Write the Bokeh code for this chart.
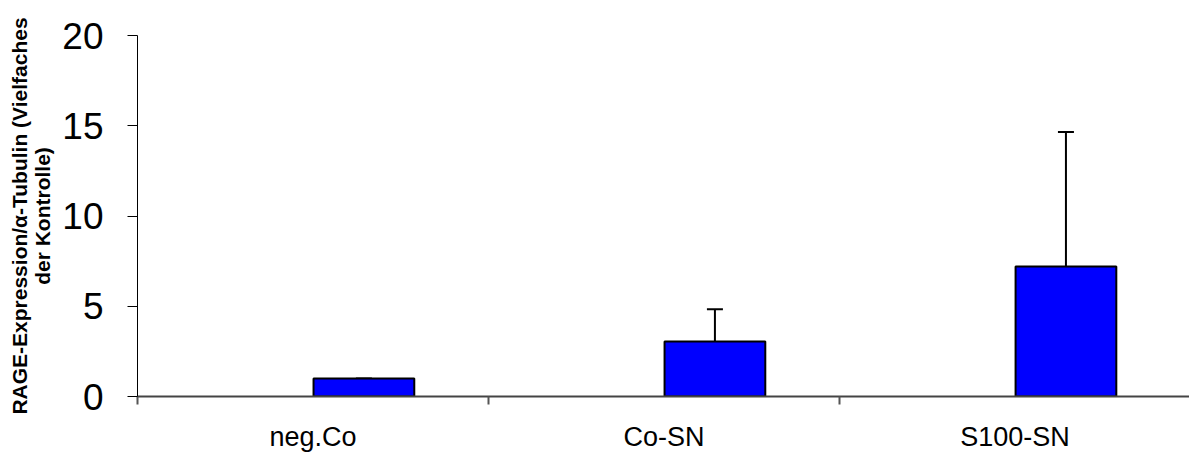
from bokeh.plotting import figure
from bokeh.models import ColumnDataSource, Range1d, FixedTicker, Whisker, TeeHead
from bokeh.embed import file_html
from bokeh.resources import INLINE

categories = ["neg.Co", "Co-SN", "S100-SN"]
values = [1.0, 3.05, 7.2]
upper_err = [0.0, 1.78, 7.45]
y_ticks = [0, 5, 10, 15, 20]

idx = list(range(len(categories)))
bar_offset = 0.645
bar_w = 0.287
xs = [i + bar_offset for i in idx]
src = ColumnDataSource(dict(
    x=xs,
    top=values,
    upper=[v + e for v, e in zip(values, upper_err)],
))

p = figure(width=1189, height=454, output_backend="svg", toolbar_location=None,
           x_range=Range1d(0, 2.997), y_range=Range1d(0, 20),
           min_border_left=137, min_border_top=35, min_border_bottom=56,
           min_border_right=0)
p.outline_line_color = None
p.xgrid.visible = False
p.ygrid.visible = False
p.background_fill_color = "white"
p.border_fill_color = "white"

p.vbar(x="x", top="top", bottom=0, width=bar_w, source=src,
       fill_color="#0000FF", line_color="black", line_width=2)

wh = Whisker(source=src, base="x", lower="top", upper="upper",
             line_color="black", line_width=2,
             upper_head=TeeHead(size=16, line_color="black", line_width=2),
             lower_head=None)
p.add_layout(wh)

# x axis
p.xaxis.ticker = FixedTicker(ticks=[i + 0.5 for i in idx],
                             minor_ticks=[0, 1, 2, 3])
p.xaxis.major_label_overrides = {i + 0.5: c for i, c in zip(idx, categories)}
p.xaxis.major_tick_out = 0
p.xaxis.major_tick_in = 0
p.xaxis.minor_tick_out = 8
p.xaxis.minor_tick_in = 0
p.xaxis.minor_tick_line_color = "#555555"
p.xaxis.minor_tick_line_width = 2
p.xaxis.axis_line_color = "#444444"
p.xaxis.axis_line_width = 2
p.xaxis.major_label_text_font = "Liberation Sans"
p.xaxis.major_label_text_font_size = "27px"
p.xaxis.major_label_text_color = "black"
p.xaxis.major_label_standoff = 17

# y axis
p.yaxis.ticker = FixedTicker(ticks=y_ticks)
p.yaxis.minor_tick_line_color = None
p.yaxis.major_tick_out = 10
p.yaxis.major_tick_in = 0
p.yaxis.major_tick_line_color = "black"
p.yaxis.axis_line_color = "black"
p.yaxis.axis_line_width = 1
p.yaxis.major_label_text_font = "Liberation Sans"
p.yaxis.major_label_text_font_size = "37px"
p.yaxis.major_label_text_color = "black"
p.yaxis.major_label_standoff = 24
p.yaxis.axis_label = "RAGE-Expression/\u03b1-Tubulin (Vielfaches\nder Kontrolle)"
p.yaxis.axis_label_text_font = "Liberation Sans"
p.yaxis.axis_label_text_font_style = "bold"
p.yaxis.axis_label_text_font_size = "21px"
p.yaxis.axis_label_text_line_height = 1.0
p.yaxis.axis_label_text_color = "black"
p.yaxis.axis_label_standoff = 5

open("out.html", "w").write(file_html(p, INLINE))
